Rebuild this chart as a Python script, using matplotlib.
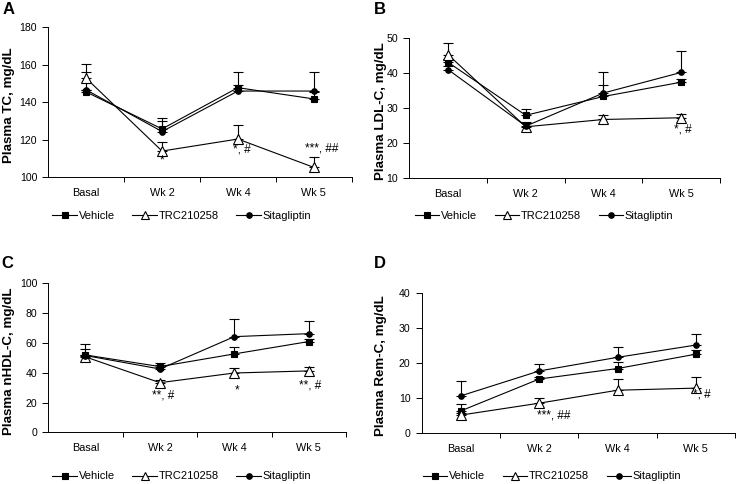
import matplotlib
matplotlib.use('Agg')
import matplotlib.pyplot as plt
from matplotlib.lines import Line2D
import numpy as np

plt.rcParams['font.family'] = ['Liberation Sans', 'DejaVu Sans']

# ---------------- data ----------------
weeks = ['Basal', 'Wk 2', 'Wk 4', 'Wk 5']
groups = ['Vehicle', 'TRC210258', 'Sitagliptin']

tc_vehicle = [145.5, 125.8, 147.8, 141.8]
tc_vehicle_err = [1.0, 4.2, 8.2, 3.9]
tc_trc = [152.8, 114.0, 120.4, 105.3]
tc_trc_err = [7.5, 5.0, 7.3, 5.4]
tc_sita = [146.6, 124.4, 146.0, 146.0]
tc_sita_err = [9.8, 7.4, 3.0, 10.0]

ldl_vehicle = [43.1, 27.9, 33.3, 37.4]
ldl_vehicle_err = [1.0, 1.8, 3.4, 1.0]
ldl_trc = [45.3, 24.6, 26.7, 27.2]
ldl_trc_err = [3.3, 1.2, 1.4, 1.2]
ldl_sita = [41.0, 24.8, 34.3, 40.2]
ldl_sita_err = [1.0, 1.2, 6.1, 6.1]

nhdl_vehicle = [51.9, 44.1, 52.6, 60.9]
nhdl_vehicle_err = [4.0, 2.2, 4.4, 1.5]
nhdl_trc = [50.6, 33.3, 39.8, 41.2]
nhdl_trc_err = [1.0, 2.0, 3.2, 2.6]
nhdl_sita = [51.5, 42.5, 64.2, 66.2]
nhdl_sita_err = [7.5, 2.5, 11.6, 8.5]

rem_vehicle = [6.4, 15.5, 18.5, 22.6]
rem_vehicle_err = [2.0, 0.5, 1.8, 1.1]
rem_trc = [5.2, 8.6, 12.3, 12.9]
rem_trc_err = [0.5, 1.4, 3.3, 3.1]
rem_sita = [10.7, 17.8, 21.7, 25.2]
rem_sita_err = [4.1, 1.9, 2.9, 3.3]

# significance labels: (x position, y value, text)
tc_sig = [(1.0, 109.0, '*'), (2.05, 114.6, '*, #'), (3.11, 115.3, '***, ##')]
ldl_sig = [(3.02, 23.9, '*, #')]
nhdl_sig = [(1.04, 24.8, '**, #'), (2.03, 28.4, '*'), (3.02, 31.5, '**, #')]
rem_sig = [(1.19, 5.2, '***, ##'), (3.08, 11.0, '*, #')]

# ---------------- plot ----------------
fig = plt.figure(figsize=(7.36, 4.84), dpi=100)

styles = [dict(marker='s', markersize=4.2, markerfacecolor='black'),
          dict(marker='^', markersize=6.5, markerfacecolor='white'),
          dict(marker='o', markersize=4, markerfacecolor='black')]
leg_sizes = [4.2, 5.5, 4]


def panel(rect, series, errs, ylim, yticks, ylabel, lab_x, sig, letter, let_pos, leg_x, leg_y):
    ax = fig.add_axes(rect)
    x = np.arange(len(weeks))
    for vals, err, st in zip(series, errs, styles):
        ax.errorbar(x, vals, yerr=[np.zeros(len(err)), err], color='black', lw=0.8,
                    elinewidth=0.8, capsize=3.5, capthick=0.8,
                    markeredgecolor='black', markeredgewidth=0.8, **st)
    ax.set_xlim(-0.5, 3.5)
    ax.set_ylim(*ylim)
    ax.set_yticks(yticks)
    ax.set_xticks(x)
    ax.set_xticklabels(weeks)
    ax.set_xticks([0.5, 1.5, 2.5, 3.5], minor=True)
    ax.tick_params(axis='x', which='major', length=0, pad=8, labelsize=7.8)
    ax.tick_params(axis='x', which='minor', length=3.5, width=0.7, direction='out')
    ax.tick_params(axis='y', length=4, width=0.7, pad=4, labelsize=7.6)
    for s in ['top', 'right']:
        ax.spines[s].set_visible(False)
    for s in ['left', 'bottom']:
        ax.spines[s].set_linewidth(0.7)
    ax.set_ylabel(ylabel, fontsize=9.6, fontweight='bold')
    ax.yaxis.set_label_coords(lab_x, 0.48)
    for sx, sy, txt in sig:
        ax.text(sx, sy, txt, ha='center', va='center', fontsize=8.5)
    fig.text(let_pos[0], let_pos[1], letter, fontsize=12, fontweight='bold',
             ha='left', va='top')
    handles = []
    for st, ms in zip(styles, leg_sizes):
        st2 = dict(st)
        st2['markersize'] = ms
        handles.append(Line2D([], [], color='black', lw=0.8, markeredgecolor='black',
                              markeredgewidth=0.8, **st2))
    fig.legend(handles, groups, loc='center', bbox_to_anchor=(leg_x, leg_y),
               ncol=3, frameon=False, fontsize=8, handlelength=2.2,
               handletextpad=0.15, columnspacing=1.6, borderpad=0)
    return ax


panel([0.0656, 0.6337, 0.4122, 0.3099],
      [tc_vehicle, tc_trc, tc_sita], [tc_vehicle_err, tc_trc_err, tc_sita_err],
      (100, 180), [100, 120, 140, 160, 180], 'Plasma TC, mg/dL', -0.11,
      tc_sig, 'A', (0.003, 0.995), 0.247, 0.554)

panel([0.5561, 0.6329, 0.4221, 0.2880],
      [ldl_vehicle, ldl_trc, ldl_sita], [ldl_vehicle_err, ldl_trc_err, ldl_sita_err],
      (10, 50), [10, 20, 30, 40, 50], 'Plasma LDL-C, mg/dL', -0.072,
      ldl_sig, 'B', (0.508, 0.995), 0.739, 0.554)

panel([0.0656, 0.1068, 0.4045, 0.3079],
      [nhdl_vehicle, nhdl_trc, nhdl_sita], [nhdl_vehicle_err, nhdl_trc_err, nhdl_sita_err],
      (0, 100), [0, 20, 40, 60, 80, 100], 'Plasma nHDL-C, mg/dL', -0.112,
      nhdl_sig, 'C', (0.002, 0.472), 0.247, 0.0155)

panel([0.5730, 0.1048, 0.4257, 0.2893],
      [rem_vehicle, rem_trc, rem_sita], [rem_vehicle_err, rem_trc_err, rem_sita_err],
      (0, 40), [0, 10, 20, 30, 40], 'Plasma Rem-C, mg/dL', -0.111,
      rem_sig, 'D', (0.508, 0.472), 0.75, 0.0155)

fig.savefig('out.png', dpi=100)
